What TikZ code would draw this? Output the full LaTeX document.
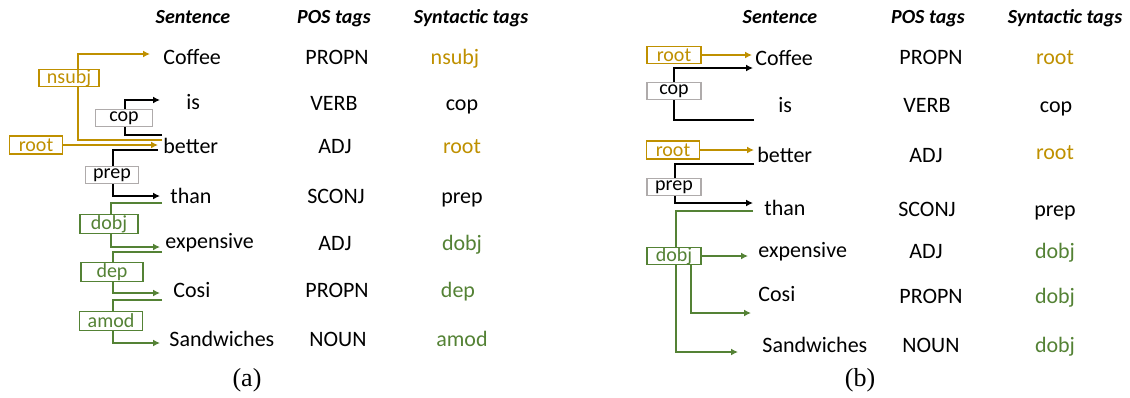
\documentclass[tikz,border=0pt]{standalone}
\usepackage{fontspec}
\setmainfont{Carlito}
\newfontfamily\capfont{Liberation Serif}
\usetikzlibrary{arrows.meta}
\definecolor{gold}{HTML}{BF9000}
\definecolor{dgreen}{HTML}{548235}
\definecolor{boxgray}{HTML}{AFABAB}

\begin{document}
\begin{tikzpicture}[x=0.5pt,y=-0.5pt]
  \tikzstyle{word}=[anchor=base west, inner sep=0pt, font=\fontsize{11}{13}\selectfont]
  \tikzstyle{tag}=[anchor=base, inner sep=0pt, font=\fontsize{11}{13}\selectfont]
  \tikzstyle{head}=[anchor=base, inner sep=0pt, font=\fontsize{10}{12}\selectfont\bfseries\itshape]
  \tikzstyle{box}=[rectangle, draw=boxgray, fill=white, line width=0.75pt, inner sep=0pt, minimum height=8.5pt, font=\fontsize{10}{11}\selectfont]
  \tikzstyle{plain}=[line width=0.75pt]
  \tikzstyle{connect}=[line width=0.75pt, -{Latex[length=3.5pt,width=3.5pt]}]
  \useasboundingbox (0,0) rectangle (1130,397);

  % (a) one arc per word
  \node[head] (senA) at (193,23) {Sentence};
  \node[head] (posA) at (334,23) {POS tags};
  \node[head] (synA) at (471,23) {Syntactic tags};
    \node[word] (coffeeA) at (163,64) {Coffee};
    \node[word] (isA) at (186,109) {is};
    \node[word] (betterA) at (163,153) {better};
    \node[word] (thanA) at (170,203) {than};
    \node[word] (expA) at (165,248) {expensive};
    \node[word] (cosiA) at (173,297) {Cosi};
    \node[word] (sandA) at (169,346) {Sandwiches};
    \node[tag] (p1A) at (337,64) {PROPN};
    \node[tag] (p2A) at (334,110) {VERB};
    \node[tag] (p3A) at (335,153) {ADJ};
    \node[tag] (p4A) at (336,203) {SCONJ};
    \node[tag] (p5A) at (335,250) {ADJ};
    \node[tag] (p6A) at (337,297) {PROPN};
    \node[tag] (p7A) at (338,346) {NOUN};
    \node[tag, text=gold] (s1A) at (455,64) {nsubj};
    \node[tag] (s2A) at (462,110) {cop};
    \node[tag, text=gold] (s3A) at (462,153) {root};
    \node[tag] (s4A) at (462,203) {prep};
    \node[tag, text=dgreen] (s5A) at (462,250) {dobj};
    \node[tag, text=dgreen] (s6A) at (458,297) {dep};
    \node[tag, text=dgreen] (s7A) at (462,346) {amod};
    \node[box, draw=gold, text=gold, minimum width=30pt] (nsubjA) at (69,78) {nsubj};
    \node[box, minimum width=28.5pt] (copA) at (124,118) {cop};
    \node[box, draw=gold, text=gold, minimum width=26.5pt, minimum height=9pt] (rootA) at (36,145) {root};
    \node[box, minimum width=26.5pt] (prepA) at (112,175) {prep};
    \node[box, draw=dgreen, text=dgreen, minimum width=29pt, minimum height=9.5pt] (dobjA) at (109,224) {dobj};
    \node[box, draw=dgreen, text=dgreen, minimum width=31pt, minimum height=9.5pt] (depA) at (112,272) {dep};
    \node[box, draw=dgreen, text=dgreen, minimum width=31.5pt, minimum height=9.5pt] (amodA) at (111,321) {amod};
    \draw[plain, gold] ([shift={(-1,-13)}]betterA.base west) -| ([shift={(9,0)}]nsubjA.south);
    \draw[connect, gold] ([shift={(9,0)}]nsubjA.north) |- ([shift={(-13,-10)}]coffeeA.base west);
    \draw[connect, gold] (rootA.east) -- ([shift={(-5,-8)}]betterA.base west);
    \draw[plain] ([shift={(-1,-18)}]betterA.base west) -| ([shift={(1,0)}]copA.south);
    \draw[connect] ([shift={(1,0)}]copA.north) |- ([shift={(-26,-9)}]isA.base west);
    \draw[plain] ([shift={(-5,-3)}]betterA.base west) -| ([shift={(1,0)}]prepA.north);
    \draw[connect] ([shift={(1,0)}]prepA.south) |- ([shift={(-10,-7)}]thanA.base west);
    \draw[plain, dgreen] ([shift={(-8,0)}]thanA.base west) -| ([shift={(2,0)}]dobjA.north);
    \draw[connect, dgreen] ([shift={(2,0)}]dobjA.south) |- ([shift={(-5,-1)}]expA.base west);
    \draw[plain, dgreen] ([shift={(-3,4)}]expA.base west) -| ([shift={(1,0)}]depA.north);
    \draw[connect, dgreen] ([shift={(1,0)}]depA.south) |- ([shift={(-13,-4)}]cosiA.base west);
    \draw[plain, dgreen] ([shift={(-11,3)}]cosiA.base west) -| ([shift={(2,0)}]amodA.north);
    \draw[connect, dgreen] ([shift={(2,0)}]amodA.south) |- ([shift={(-9,-3)}]sandA.base west);
  \node[anchor=base, font=\capfont\fontsize{13}{15}\selectfont] (capA) at (247,386) {(a)};

  % (b) shared dobj box
  \node[head] (senB) at (780,23) {Sentence};
  \node[head] (posB) at (928,23) {POS tags};
  \node[head] (synB) at (1065,23) {Syntactic tags};
    \node[word] (coffeeB) at (755,65) {Coffee};
    \node[word] (isB) at (778,112) {is};
    \node[word] (betterB) at (757,162) {better};
    \node[word] (thanB) at (764,215) {than};
    \node[word] (expB) at (758,257) {expensive};
    \node[word] (cosiB) at (758,301) {Cosi};
    \node[word] (sandB) at (762,352) {Sandwiches};
    \node[tag] (p1B) at (931,64) {PROPN};
    \node[tag] (p2B) at (927,112) {VERB};
    \node[tag] (p3B) at (926,162) {ADJ};
    \node[tag] (p4B) at (927,216) {SCONJ};
    \node[tag] (p5B) at (926,258) {ADJ};
    \node[tag] (p6B) at (931,303) {PROPN};
    \node[tag] (p7B) at (931,352) {NOUN};
    \node[tag, text=gold] (s1B) at (1055,64) {root};
    \node[tag] (s2B) at (1056,112) {cop};
    \node[tag, text=gold] (s3B) at (1055,159) {root};
    \node[tag] (s4B) at (1055,216) {prep};
    \node[tag, text=dgreen] (s5B) at (1055,258) {dobj};
    \node[tag, text=dgreen] (s6B) at (1055,303) {dobj};
    \node[tag, text=dgreen] (s7B) at (1055,352) {dobj};
    \node[box, draw=gold, text=gold, minimum width=27pt] (root1B) at (674,55) {root};
    \node[box, minimum width=27pt] (copB) at (674,91) {cop};
    \node[box, draw=gold, text=gold, minimum width=26.5pt, minimum height=9pt] (root2B) at (673,150) {root};
    \node[box, minimum width=27pt] (prepB) at (674,187) {prep};
    \node[box, draw=dgreen, text=dgreen, minimum width=27pt] (dobjB) at (674,256) {dobj};
    \draw[connect, gold] (root1B.east) -- ([shift={(-3,-10)}]coffeeB.base west);
    \draw[plain] ([shift={(-24,8)}]isB.base west) -| (copB.south);
    \draw[connect] (copB.north) |- ([shift={(-2,3)}]coffeeB.base west);
    \draw[connect, gold] (root2B.east) -- ([shift={(-3,-12)}]betterB.base west);
    \draw[plain] ([shift={(-3,2)}]betterB.base west) -| ([shift={(1,0)}]prepB.north);
    \draw[connect] ([shift={(1,0)}]prepB.south) |- ([shift={(-11,-12)}]thanB.base west);
    \draw[plain, dgreen] ([shift={(-11,-4)}]thanB.base west) -| ([shift={(2,0)}]dobjB.north);
    \draw[connect, dgreen] (dobjB.east) -- ([shift={(-10,-1)}]expB.base west);
    \draw[connect, dgreen] ([shift={(17,0)}]dobjB.south) |- ([shift={(-7,12)}]cosiB.base west);
    \draw[connect, dgreen] ([shift={(2,0)}]dobjB.south) |- ([shift={(-24,0)}]sandB.base west);
  \node[anchor=base, font=\capfont\fontsize{13}{15}\selectfont] (capB) at (860,386) {(b)};
\end{tikzpicture}
\end{document}
